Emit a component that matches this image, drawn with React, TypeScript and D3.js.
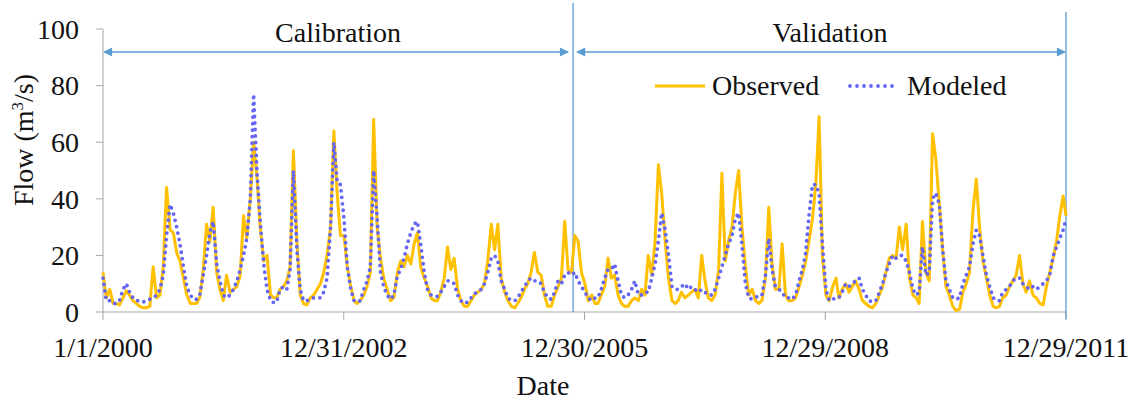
import React from "react";
import * as d3 from "d3";

// semi-monthly readings (1st and 16th of each month), one row per year, last value = 12/29/2011
const observed = [
  14, 5, 8, 3, 3, 2.5, 5, 7.5, 6, 4, 3, 2, 1.5, 1.5, 2, 16, 5, 6, 16, 44, 29, 28, 21, 18,
  12, 6, 3, 3, 3, 5, 15, 31, 25, 37, 14, 8, 4, 13, 7, 8, 9, 13, 34, 26, 40, 60, 48, 30,
  18, 20, 6, 5, 5, 8, 9, 11, 16, 57, 25, 6, 3, 2.5, 5, 6, 8, 10, 14, 20, 30, 64, 42, 27,
  27, 16, 9, 4, 3, 4, 6, 9, 14, 68, 30, 19, 12, 8, 4, 5, 14, 18, 16, 20, 17, 24, 28, 16,
  12, 9, 5, 4, 4, 7, 12, 23, 15, 19, 8, 4, 2, 2, 4, 6, 7, 8, 10, 18, 31, 22, 31, 12,
  7, 4, 2, 1.5, 3, 5, 8, 10, 14, 21, 14, 13, 6, 2, 2, 6, 9, 12, 32, 15, 14, 27, 25, 14,
  10, 4, 6, 3, 3, 6, 9, 19, 12, 13, 6, 3, 2, 2, 4, 5, 4, 8, 6, 20, 13, 25, 52, 42,
  25, 12, 4, 3, 4, 7, 5, 6, 7, 8, 5, 20, 11, 5, 4, 6, 15, 49, 18, 25, 30, 42, 50, 30,
  16, 6, 8, 4, 3, 4, 12, 37, 17, 8, 8, 24, 6, 4, 4, 5, 9, 13, 18, 25, 33, 45, 69, 20,
  6, 4, 9, 12, 5, 8, 10, 7, 9, 11, 8, 4, 3, 2, 1.5, 3, 6, 9, 14, 19, 20, 19, 30, 22,
  31, 12, 6, 5, 3, 32, 14, 11, 63, 54, 38, 22, 9, 6, 2, 0.5, 1, 7, 10, 14, 36, 47, 30, 18,
  12, 6, 2, 1.5, 2, 5, 6, 9, 11, 13, 20, 10, 7, 11, 6, 5, 3, 2.5, 9, 14, 19, 25, 34, 41, 34,
];

const modeled = [
  12, 4, 4, 3, 3, 4, 8, 10, 7, 5, 4, 4, 3.5, 4, 4.5, 5, 6, 8, 13, 27, 38, 35, 30, 24,
  16, 9, 6, 4.5, 4.5, 6, 13, 20, 28, 32, 17, 11, 6, 5, 6, 8, 11, 15, 20, 26, 40, 77, 50, 32,
  17, 8, 4, 3.3, 3.5, 8, 9, 8, 15, 50, 22, 8, 4, 4, 4.5, 5, 5, 5, 7, 12, 30, 60, 46, 45,
  33, 16, 8, 4, 3.5, 4, 8, 11, 16, 50, 33, 14, 9, 6, 4.5, 6, 13, 15, 19, 24, 28, 31, 32, 24,
  14, 8, 6, 5.5, 5.5, 7, 9, 11, 11, 10, 6, 4, 3, 3.5, 5, 6.5, 7, 8, 10, 14, 19, 20, 18, 11,
  8, 5, 4, 4, 5, 7, 9, 11, 12, 11, 11, 10, 7, 5, 4.5, 7, 11, 10, 13, 14, 13, 14, 11, 9,
  7, 5, 4, 5, 5, 8, 12, 15, 15, 17, 11, 6, 5, 6, 8, 11, 6, 6, 7, 7, 12, 17, 25, 35,
  29, 20, 9, 8, 8, 9, 10, 8, 9, 8, 7, 8, 7, 6, 6, 8, 12, 16, 20, 24, 27, 33, 35, 24,
  10, 5, 4.5, 5, 6, 6, 13, 26, 15, 9, 8, 7, 5, 5, 4.5, 6, 11, 15, 21, 34, 45, 45, 42, 24,
  8, 4, 4.5, 5, 5, 7, 10, 9, 10, 11, 12, 8, 6, 4, 3.5, 4, 7, 10, 14, 17, 20, 19, 20, 20,
  18, 14, 8, 6, 7, 23, 13, 14, 40, 42, 38, 22, 11, 8, 5, 4.5, 5, 10, 13, 16, 24, 29, 27, 20,
  13, 9, 5, 4, 4, 7, 8, 9, 11, 12, 12, 10, 9, 8, 9, 8, 9, 10, 11, 13, 20, 23, 26, 29, 33,
];

const xTickDates = [
  new Date(2000, 0, 1),
  new Date(2002, 11, 31),
  new Date(2005, 11, 30),
  new Date(2008, 11, 29),
  new Date(2011, 11, 29),
];
const xTickLabels = ["1/1/2000", "12/31/2002", "12/30/2005", "12/29/2008", "12/29/2011"];
const yTicks = [0, 20, 40, 60, 80, 100];
const splitDate = new Date(2005, 10, 8);
const periods = ["Calibration", "Validation"];
const seriesNames = ["Observed", "Modeled"];

const dates = observed.map((_, i) =>
  i < observed.length - 1
    ? new Date(2000, Math.floor(i / 2), i % 2 ? 16 : 1)
    : new Date(2011, 11, 29)
);

const W = 1135;
const H = 406;
const FONT = '"Liberation Serif", "Times New Roman", Times, serif';
const GOLD = "#FFC000";
const BLUE = "#6666F5";
const ANNO = "#5B9BD5";
const AXIS = "#A6A6A6";
const txt = { fontFamily: FONT, fontSize: 28, fill: "#111" };

export default function App() {
  const x = d3
    .scaleTime()
    .domain([xTickDates[0], xTickDates[xTickDates.length - 1]])
    .range([103, 1066]);
  const y = d3.scaleLinear().domain([0, 100]).range([312, 29]);

  const line = d3
    .line<number>()
    .x((_, i) => x(dates[i]))
    .y((d) => y(d));

  const xs = x(splitDate);
  const x0 = x.range()[0];
  const x1 = x.range()[1];
  const arrowY = 52;

  return (
    <svg
      width={W}
      height={H}
      style={{ position: "absolute", left: 0, top: 0, background: "#fff", fontFamily: FONT }}
    >
      <defs>
        <marker id="arr" viewBox="0 0 10 10" refX="9" refY="5" markerWidth="11" markerHeight="9"
          markerUnits="userSpaceOnUse" orient="auto-start-reverse">
          <path d="M0,0 L10,5 L0,10 z" fill={ANNO} />
        </marker>
      </defs>

      {/* y axis */}
      <line x1={x0} x2={x0} y1={y(100)} y2={y(0)} stroke={AXIS} strokeWidth={1} />
      {yTicks.map((t) => (
        <g key={t}>
          <line x1={x0 - 7} x2={x0} y1={y(t)} y2={y(t)} stroke={AXIS} strokeWidth={1} />
          <text x={79} y={y(t)} dy="0.35em" textAnchor="end" style={txt}>
            {t}
          </text>
        </g>
      ))}

      {/* x axis */}
      <line x1={x0} x2={x1} y1={y(0)} y2={y(0)} stroke={AXIS} strokeWidth={1} />
      {xTickDates.map((d, i) => (
        <g key={i}>
          <line x1={x(d)} x2={x(d)} y1={y(0)} y2={y(0) + 8} stroke={AXIS} strokeWidth={1} />
          <text x={x(d)} y={357} textAnchor="middle" style={txt}>
            {xTickLabels[i]}
          </text>
        </g>
      ))}

      <text x={543} y={395} textAnchor="middle" style={txt}>
        Date
      </text>
      <text transform={`translate(33, 140) rotate(-90)`} textAnchor="middle" style={txt}>
        Flow (m<tspan dy={-10} style={{ fontSize: 17 }}>3</tspan>
        <tspan dy={10}>/s)</tspan>
      </text>

      {/* period annotations */}
      <line x1={xs} x2={xs} y1={3} y2={y(0)} stroke={ANNO} strokeWidth={1.3} />
      <line x1={x1} x2={x1} y1={12} y2={y(0) + 7} stroke={ANNO} strokeWidth={1.3} />
      <line x1={x0 + 1} x2={xs - 5} y1={arrowY} y2={arrowY} stroke={ANNO} strokeWidth={1.5}
        markerStart="url(#arr)" markerEnd="url(#arr)" />
      <line x1={xs + 4} x2={x1 - 1} y1={arrowY} y2={arrowY} stroke={ANNO} strokeWidth={1.5}
        markerStart="url(#arr)" markerEnd="url(#arr)" />
      <text x={(x0 + xs) / 2} y={42} textAnchor="middle" style={txt}>
        {periods[0]}
      </text>
      <text x={830} y={42} textAnchor="middle" style={txt}>
        {periods[1]}
      </text>

      {/* series */}
      <path d={line(observed) ?? ""} fill="none" stroke={GOLD} strokeWidth={3}
        strokeLinejoin="round" />
      <path d={line(modeled) ?? ""} fill="none" stroke={BLUE} strokeWidth={3.8}
        strokeLinecap="round" strokeDasharray="0 6.5" />

      {/* legend */}
      <line x1={655} x2={705} y1={86} y2={86} stroke={GOLD} strokeWidth={3} />
      <text x={712} y={95} style={txt}>{seriesNames[0]}</text>
      <line x1={850} x2={899} y1={86} y2={86} stroke={BLUE} strokeWidth={3.8}
        strokeLinecap="round" strokeDasharray="0 7" />
      <text x={907} y={95} style={txt}>{seriesNames[1]}</text>
    </svg>
  );
}
